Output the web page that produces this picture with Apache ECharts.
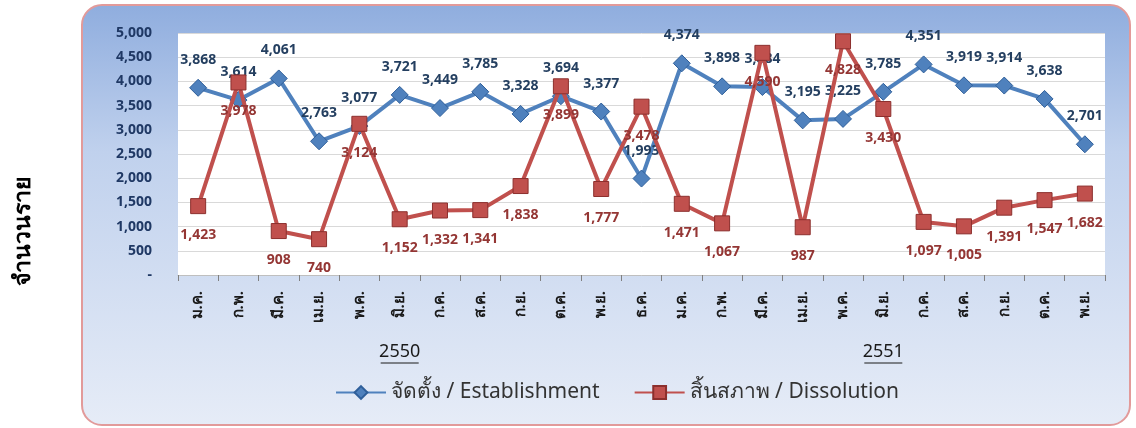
<!DOCTYPE html>
<html>
<head>
<meta charset="utf-8">
<script src="https://cdn.jsdelivr.net/npm/echarts@6/dist/echarts.min.js"></script>
<style>
html,body{margin:0;padding:0;background:#ffffff;}
#chart{width:1136px;height:428px;}
</style>
</head>
<body>
<div id="chart"></div>
<script>
var categories = ['ม.ค.','ก.พ.','มี.ค.','เม.ย.','พ.ค.','มิ.ย.','ก.ค.','ส.ค.','ก.ย.','ต.ค.','พ.ย.','ธ.ค.',
                  'ม.ค.','ก.พ.','มี.ค.','เม.ย.','พ.ค.','มิ.ย.','ก.ค.','ส.ค.','ก.ย.','ต.ค.','พ.ย.'];
var establishment = [3868,3614,4061,2763,3077,3721,3449,3785,3328,3694,3377,1993,
                     4374,3898,3884,3195,3225,3785,4351,3919,3914,3638,2701];
var dissolution = [1423,3978,908,740,3124,1152,1332,1341,1838,3899,1777,3478,
                   1471,1067,4590,987,4828,3430,1097,1005,1391,1547,1682];
var years = ['2550','2551'];
var yearCenterIndex = [5,17];
var seriesNames = ['จัดตั้ง / Establishment','สิ้นสภาพ / Dissolution'];
var yTitle = 'จำนวนราย';

var chart = echarts.init(document.getElementById('chart'));
var fontFam = '"Noto Sans", "DejaVu Sans", sans-serif';
function fmt(v){ return v === 0 ? '-' : v.toLocaleString('en-US'); }

var option = {
  backgroundColor: '#ffffff',
  animation: false,
  grid: {left:178, right:31, top:33, bottom:153, show:true, backgroundColor:'#ffffff', borderWidth:0},
  legend: {
    data: seriesNames,
    left: 330, top: 377,
    itemWidth: 50, itemHeight: 16, itemGap: 34,
    textStyle: {fontSize: 21, color: '#333333', fontFamily: fontFam}
  },
  xAxis: {
    type: 'category',
    data: categories,
    boundaryGap: true,
    axisLine: {show:true, lineStyle:{color:'#bfbfbf', width:1}},
    axisTick: {show:true, length:6, lineStyle:{color:'#808080'}},
    axisLabel: {rotate: 90, fontSize: 15, fontWeight:'bold', color:'#1a1a1a', margin: 16, fontFamily: fontFam}
  },
  yAxis: {
    type: 'value',
    min: 0, max: 5000, interval: 500,
    axisLine: {show:false},
    axisTick: {show:false},
    splitLine: {lineStyle:{color:'#d9d9d9', width:1}},
    axisLabel: {formatter: fmt, fontSize: 14, fontWeight:'bold', color:'#1f3864', margin: 26, fontFamily: fontFam}
  },
  series: [
    {
      name: seriesNames[0], type: 'line', data: establishment,
      symbol: 'diamond', symbolSize: 17,
      lineStyle: {color:'#4f81bd', width:4},
      itemStyle: {color:'#4f81bd', borderColor:'#2f5f9a', borderWidth:1},
      label: {show:true, position:'top', distance: 12, formatter: function(p){return fmt(p.value);},
              fontSize: 14, fontWeight:'bold', color:'#243f60', fontFamily: fontFam},
      z: 2
    },
    {
      name: seriesNames[1], type: 'line', data: dissolution,
      symbol: 'rect', symbolSize: 15,
      lineStyle: {color:'#c0504d', width:4},
      itemStyle: {color:'#c0504d', borderColor:'#8c2f2d', borderWidth:1},
      label: {show:true, position:'bottom', distance: 14, formatter: function(p){return fmt(p.value);},
              fontSize: 14, fontWeight:'bold', color:'#943634', fontFamily: fontFam},
      z: 3
    }
  ]
};
chart.setOption(option);

var graphics = [
  {type:'rect', z:-10, silent:true, shape:{x:82, y:5, width:1048, height:420, r:20},
   style:{fill:new echarts.graphic.LinearGradient(0,0,0,1,[
      {offset:0, color:'#8fadde'},{offset:0.35, color:'#c0d1ed'},{offset:1, color:'#e6ecf7'}]),
      stroke:'#e29a9a', lineWidth:2}},
  {type:'text', z:10, x: 23, y: 231, rotation: Math.PI/2,
   style:{text: yTitle, fontSize: 23, fontWeight:'bold', fill:'#000000', fontFamily: fontFam,
          align:'center', verticalAlign:'middle'}}
];
for (var i = 0; i < years.length; i++) {
  var px = chart.convertToPixel({xAxisIndex:0}, yearCenterIndex[i]);
  graphics.push({type:'text', z:10, x: px, y: 352,
    style:{text: years[i], fontSize: 18, fill:'#1a1a1a', fontFamily: fontFam, align:'center', verticalAlign:'middle'}});
  graphics.push({type:'line', z:10, shape:{x1: px-19, y1: 363, x2: px+19, y2: 363}, style:{stroke:'#1a1a1a', lineWidth:1}});
}
chart.setOption({graphic: graphics});
</script>
</body>
</html>
